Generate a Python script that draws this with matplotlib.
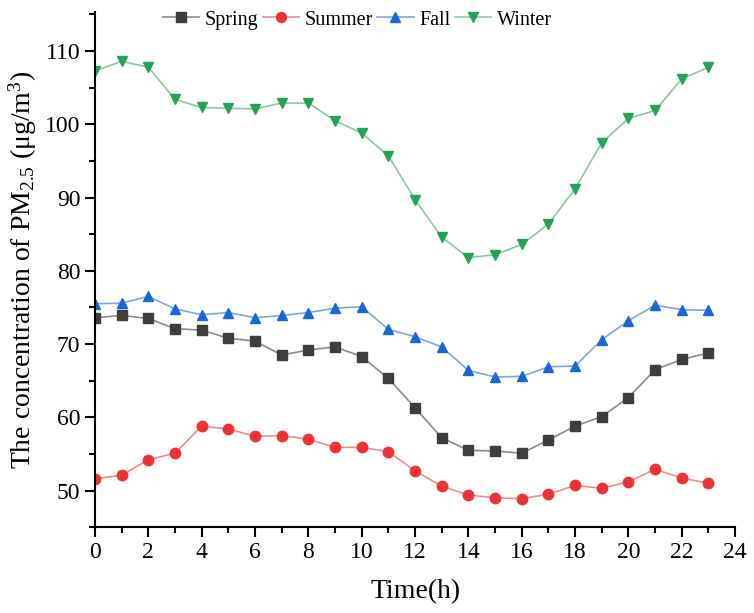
import matplotlib
matplotlib.use("Agg")
import matplotlib.pyplot as plt
from matplotlib.ticker import MultipleLocator

plt.rcParams['font.family'] = ['Liberation Serif', 'DejaVu Serif']
plt.rcParams['mathtext.fontset'] = 'custom'
plt.rcParams['mathtext.rm'] = 'Liberation Serif'
plt.rcParams['mathtext.it'] = 'Liberation Serif:italic'

hours = list(range(24))
spring = [73.6, 73.9, 73.5, 72.1, 71.9, 70.8, 70.4, 68.5, 69.2, 69.6, 68.3, 65.3,
          61.3, 57.2, 55.5, 55.4, 55.1, 56.9, 58.8, 60.1, 62.7, 66.5, 67.9, 68.8]
summer = [51.6, 52.1, 54.2, 55.1, 58.8, 58.4, 57.4, 57.5, 57.0, 55.9, 55.9, 55.3,
          52.7, 50.6, 49.4, 49.0, 48.9, 49.5, 50.7, 50.3, 51.2, 52.9, 51.7, 51.0]
fall = [75.5, 75.6, 76.5, 74.8, 74.0, 74.3, 73.6, 73.9, 74.3, 74.9, 75.1, 72.0,
        71.0, 69.6, 66.4, 65.5, 65.6, 66.9, 67.0, 70.6, 73.2, 75.3, 74.7, 74.6]
winter = [107.3, 108.6, 107.8, 103.4, 102.3, 102.2, 102.1, 102.9, 102.9, 100.5, 98.8, 95.7,
          89.7, 84.6, 81.8, 82.2, 83.6, 86.4, 91.2, 97.5, 100.8, 101.9, 106.2, 107.8]

fig = plt.figure(figsize=(7.54, 6.13), dpi=100)
ax = fig.add_axes([0.126, 0.140, 0.849, 0.840])

styles = [
    ("Spring", spring, "s", "#3d3d3d", "#8a8a8a"),
    ("Summer", summer, "o", "#ee3338", "#f08a8a"),
    ("Fall", fall, "^", "#1a66d6", "#7fa6dd"),
    ("Winter", winter, "v", "#22a35a", "#8cc7a2"),
]
for name, vals, mk, mc, lc in styles:
    ax.plot(hours, vals, color=lc, lw=1.2, marker=mk, markersize=7.5,
            markerfacecolor=mc, markeredgecolor=mc, label=name)

ax.set_xlim(0, 24)
ax.set_ylim(45, 115.3)
ax.xaxis.set_major_locator(MultipleLocator(2))
ax.xaxis.set_minor_locator(MultipleLocator(1))
ax.yaxis.set_major_locator(MultipleLocator(10))
ax.yaxis.set_minor_locator(MultipleLocator(5))
ax.set_yticks([50, 60, 70, 80, 90, 100, 110])
ax.spines['top'].set_visible(False)
ax.spines['right'].set_visible(False)
for s in ('left', 'bottom'):
    ax.spines[s].set_linewidth(1.5)
ax.tick_params(which='major', direction='out', length=7, width=1.5, labelsize=17)
ax.tick_params(which='minor', direction='out', length=4, width=1.5)

ax.set_xlabel('Time(h)', fontsize=20, labelpad=12)
ax.set_ylabel(r'The concentration of PM$_{2.5}$ ($\mathrm{\mu}$g/m$^3$)', fontsize=20)

ax.legend(loc='center', bbox_to_anchor=(0.41, 0.985), ncol=4, frameon=False,
          fontsize=14.5, handlelength=1.8, handletextpad=0.3, columnspacing=0.2,
          markerscale=0.95)

fig.savefig('out.png', dpi=100)
